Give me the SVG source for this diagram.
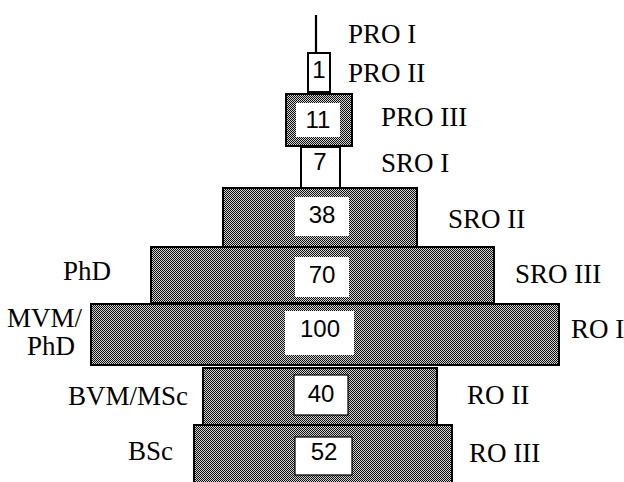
<svg xmlns="http://www.w3.org/2000/svg" width="624" height="482" viewBox="0 0 624 482">
<defs>
<pattern id="dots" width="2" height="2" patternUnits="userSpaceOnUse">
<rect width="2" height="2" fill="#d0d0d0"/>
<rect width="1" height="1" fill="#111"/>
<rect x="1" y="1" width="1" height="1" fill="#111"/>
</pattern>
<style>
.tier{fill:url(#dots);stroke:#000;stroke-width:2}
.plain{fill:#fff;stroke:#000;stroke-width:2}
.inner{fill:#fff;stroke:none}
.innerb{fill:#fff;stroke:#000;stroke-width:1.2}
.num{font-family:"Liberation Sans",Arial,sans-serif;font-size:24px;fill:#000;text-anchor:middle}
.lbl{font-family:"Liberation Serif","Times New Roman",serif;font-size:27px;fill:#000}
.end{text-anchor:end}
</style>
</defs>
<rect width="624" height="482" fill="#fff"/>
<g id="connectors">
<line x1="316" y1="15" x2="316" y2="53" stroke="#000" stroke-width="2.2"/>
</g>
<g id="ro3">
<rect class="tier" x="194" y="425" width="258" height="60"/>
<rect class="innerb" x="295" y="437" width="57" height="38"/>
<text class="num" x="324" y="460">52</text>
</g>
<g id="ro2">
<rect class="tier" x="203" y="368" width="234" height="57"/>
<rect class="innerb" x="294" y="375" width="54" height="40"/>
<text class="num" x="321" y="402">40</text>
</g>
<g id="ro1">
<rect class="tier" x="91" y="304" width="468" height="61"/>
<rect class="inner" x="285" y="311" width="69" height="44"/>
<text class="num" x="320" y="337">100</text>
</g>
<g id="sro3">
<rect class="tier" x="151" y="247" width="343" height="56"/>
<rect class="inner" x="295" y="257" width="54" height="40"/>
<text class="num" x="322" y="283">70</text>
</g>
<g id="sro2">
<rect class="tier" x="223" y="188" width="194" height="59"/>
<rect class="inner" x="295" y="197" width="54" height="39"/>
<text class="num" x="322" y="223">38</text>
</g>
<g id="sro1">
<rect class="plain" x="301" y="147" width="39" height="41"/>
<text class="num" x="320" y="170">7</text>
</g>
<g id="pro3">
<rect class="tier" x="286" y="94" width="66" height="52"/>
<rect class="inner" x="296" y="103" width="44" height="34"/>
<text class="num" x="318" y="128">11</text>
</g>
<g id="pro2">
<rect class="plain" x="308" y="53" width="22" height="39"/>
<text class="num" x="319" y="78">1</text>
</g>
<g id="labels">
<text class="lbl" x="348" y="43">PRO I</text>
<text class="lbl" x="348" y="82">PRO II</text>
<text class="lbl" x="381" y="126">PRO III</text>
<text class="lbl" x="381" y="172">SRO I</text>
<text class="lbl" x="448" y="228">SRO II</text>
<text class="lbl" x="515" y="283">SRO III</text>
<text class="lbl" x="571" y="338">RO I</text>
<text class="lbl" x="467" y="404">RO II</text>
<text class="lbl" x="469" y="462">RO III</text>
<text class="lbl" x="63" y="280">PhD</text>
<text class="lbl end" x="82" y="327">MVM/</text>
<text class="lbl end" x="75" y="355">PhD</text>
<text class="lbl" x="68" y="405">BVM/MSc</text>
<text class="lbl" x="128" y="460">BSc</text>
</g>
</svg>
